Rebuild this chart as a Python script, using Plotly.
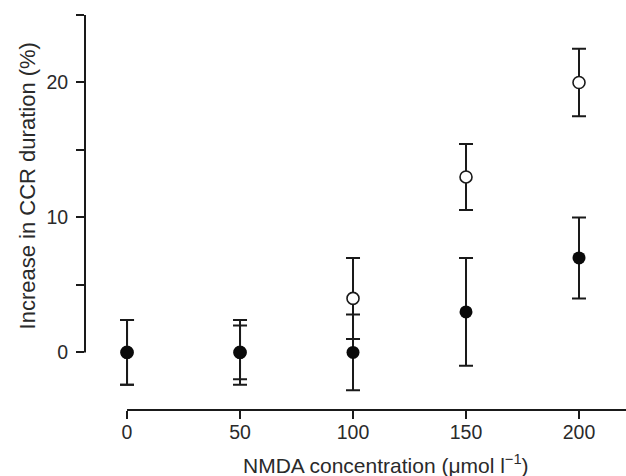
import plotly.graph_objects as go

# Data
conc = [0, 50, 100, 150, 200]
open_vals = [0, 0, 4, 13, 20]
open_err = [2.4, 2.0, 3.0, 2.45, 2.5]
filled_vals = [0, 0, 0, 3, 7]
filled_err = [2.4, 2.4, 2.8, 4.0, 3.0]

x_ticks = [0, 50, 100, 150, 200]
y_ticks = [0, 10, 20]
y_minor_ticks = [5, 15, 25]

XMIN, XMAX = -18.6, 220.8
YMIN, YMAX = -4.27, 25.0
INK = "#1a1a1a"
TXT = "#2a2a2a"
FONT = "Liberation Sans, Arial, sans-serif"
FS = 19.5

fig = go.Figure()
fig.add_trace(go.Scatter(
    x=conc, y=open_vals, mode="markers",
    marker=dict(symbol="circle", size=12, color="white", line=dict(color=INK, width=1.6)),
    error_y=dict(type="data", array=open_err, visible=True, color=INK, thickness=2, width=7),
    showlegend=False,
))
fig.add_trace(go.Scatter(
    x=conc, y=filled_vals, mode="markers",
    marker=dict(symbol="circle", size=13, color="#0a0a0a", line=dict(color="#0a0a0a", width=0)),
    error_y=dict(type="data", array=filled_err, visible=True, color=INK, thickness=2, width=7),
    showlegend=False,
))

# axis lines (partial, like the original)
x0p = (0 - XMIN) / (XMAX - XMIN)
fig.add_shape(type="line", xref="paper", yref="paper", x0=x0p, x1=1, y0=0, y1=0,
              line=dict(color=INK, width=2))
y0p = (0 - YMIN) / (YMAX - YMIN)
y1p = (25 - YMIN) / (YMAX - YMIN)
fig.add_shape(type="line", xref="paper", yref="paper", x0=0, x1=0, y0=y0p, y1=y1p,
              line=dict(color=INK, width=2))

fig.add_annotation(text="Increase in CCR duration (%)", xref="paper", yref="y",
                   x=(27 - 85) / 541, y=12.3, textangle=-90, showarrow=False,
                   xanchor="center", yanchor="middle",
                   font=dict(family=FONT, size=22, color=TXT))
fig.add_annotation(text="NMDA concentration (μmol l<sup>−1</sup>)", xref="x", yref="paper",
                   x=114.5, y=(410 - 464) / 395, showarrow=False,
                   xanchor="center", yanchor="middle",
                   font=dict(family=FONT, size=21, color=TXT))

fig.update_xaxes(range=[XMIN, XMAX], tickvals=x_ticks, ticktext=[str(v) for v in x_ticks],
                 showgrid=False, zeroline=False, showline=False,
                 ticks="outside", ticklen=8, tickwidth=2, tickcolor=INK,
                 ticklabelstandoff=-3,
                 tickfont=dict(family=FONT, size=FS, color=TXT))
fig.update_yaxes(range=[YMIN, YMAX], tickvals=y_ticks, ticktext=[str(v) for v in y_ticks],
                 showgrid=False, zeroline=False, showline=False,
                 ticks="outside", ticklen=8, tickwidth=2, tickcolor=INK,
                 ticklabelstandoff=4,
                 minor=dict(tickvals=y_minor_ticks, ticks="outside", ticklen=8,
                            tickwidth=2, tickcolor=INK, showgrid=False),
                 tickfont=dict(family=FONT, size=FS, color=TXT))

fig.update_layout(width=626, height=476, margin=dict(l=85, r=0, t=15, b=66, autoexpand=False),
                  paper_bgcolor="white", plot_bgcolor="white",
                  font=dict(family=FONT, size=FS, color=TXT))

fig.write_html("out.html", config={"displayModeBar": False},
               post_script="document.body.style.margin='0';document.body.style.padding='0';")
